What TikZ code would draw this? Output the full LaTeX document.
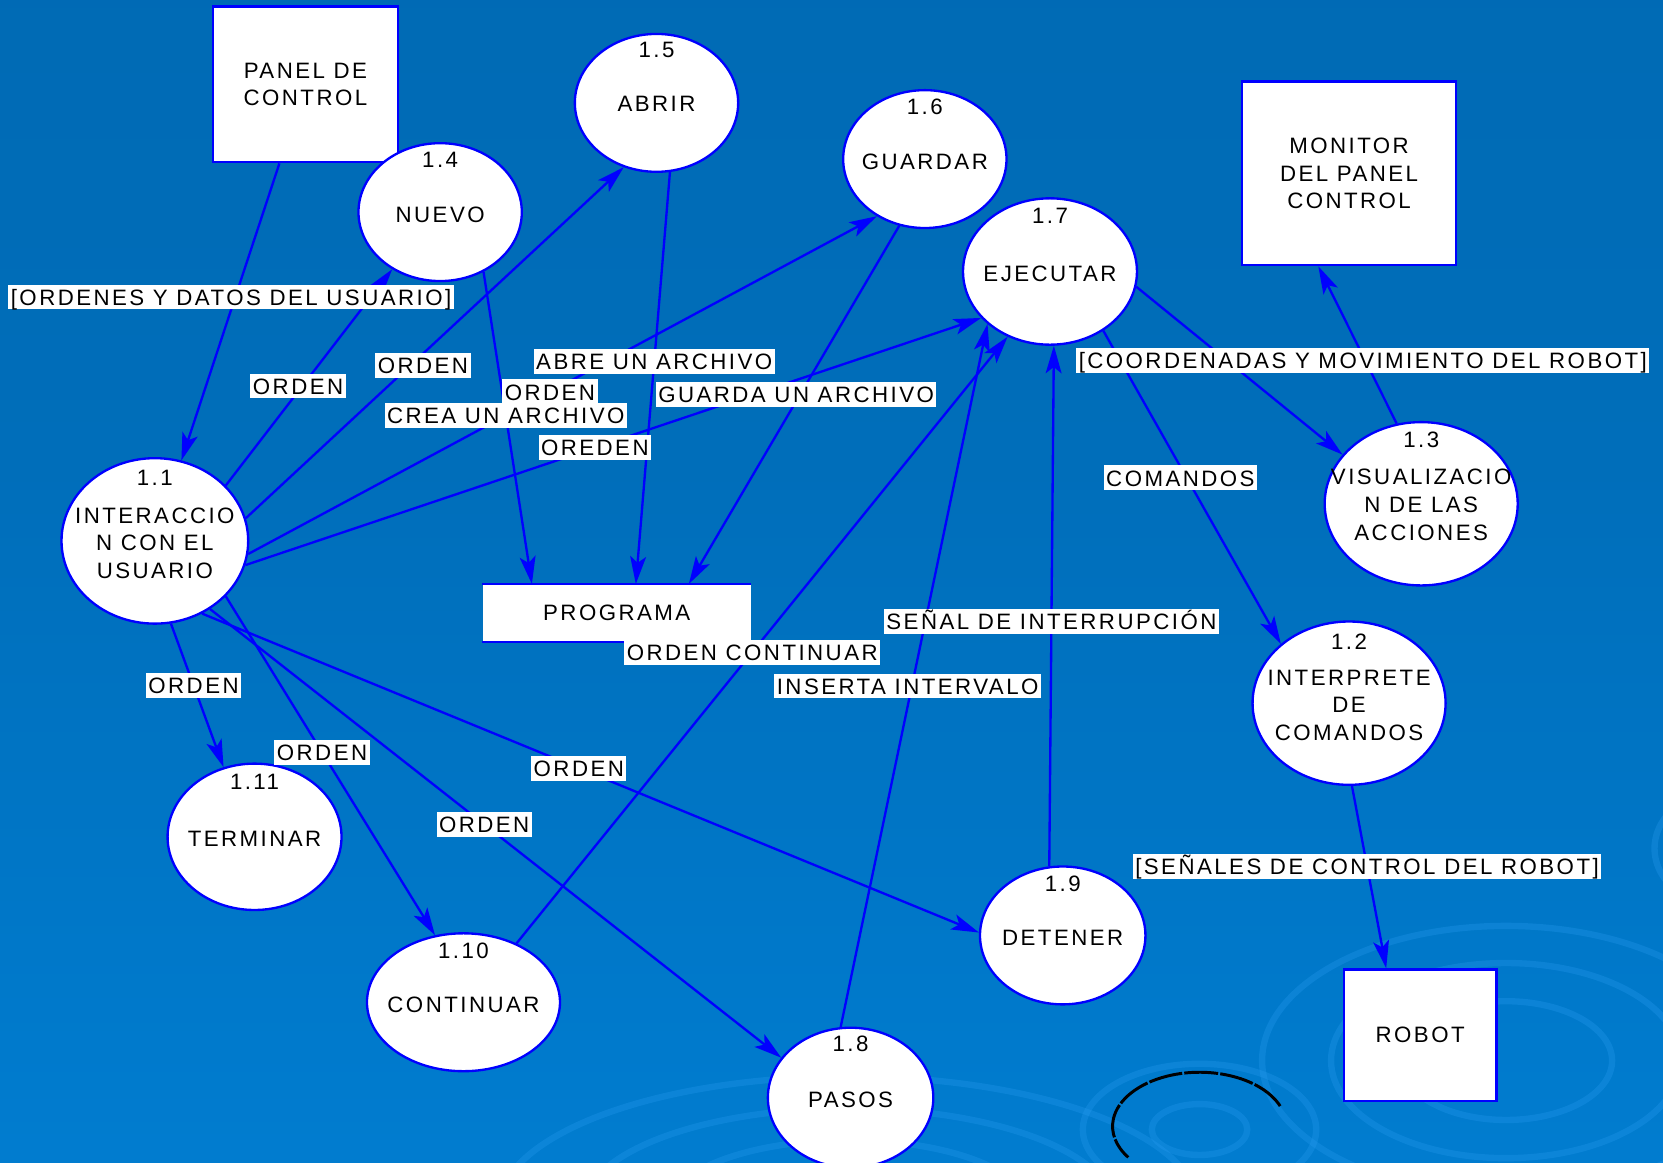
\documentclass[tikz,border=0pt]{standalone}
\usepackage{fontspec}
\setmainfont{Liberation Sans}[LetterSpace=11]
\usetikzlibrary{arrows.meta,calc,shapes.geometric}
\definecolor{flow}{RGB}{0,0,255}
\definecolor{bgtop}{RGB}{0,102,174}
\definecolor{bgmid}{RGB}{0,110,186}
\definecolor{bglow}{RGB}{0,122,204}
\definecolor{bgbot}{RGB}{8,136,224}
\definecolor{ripple}{RGB}{40,156,240}
\pgfdeclareverticalshading{bgshade}{100bp}{color(0bp)=(bgbot); color(30bp)=(bglow); color(55bp)=(bgmid); color(100bp)=(bgtop)}
\begin{document}
\begin{tikzpicture}[x=0.5pt,y=-0.5pt,
  font=\fontsize{10.5}{13}\selectfont,
  proc/.style={ellipse, draw=flow, line width=1.1pt, fill=white, inner sep=0pt},
  ptext/.style={align=center, inner sep=0pt},
  num/.style={inner sep=0pt},
  ent/.style={rectangle, draw=flow, line width=1.1pt, fill=white, align=center, inner sep=0pt},
  flowline/.style={draw=flow, line width=1.1pt, -{Stealth[length=13pt,width=7.5pt,inset=3pt]}},
  lbl/.style={fill=white, inner xsep=1.2pt, inner ysep=0.5pt, text height=9.2pt, text depth=1.5pt},
  rip/.style={draw=ripple, line width=3pt, opacity=0.3}
]
\useasboundingbox (0,0) rectangle (1568,1096);
\shade[shading=bgshade] (0,0) rectangle (1568,1096);

% background ripples
\draw[rip] (1420,1000) ellipse [x radius=230, y radius=127];
\draw[rip] (1420,1000) ellipse [x radius=165, y radius=92];
\draw[rip] (1420,1000) ellipse [x radius=100, y radius=56];
\draw[rip] (1131,1065) ellipse [x radius=45, y radius=24];
\draw[rip] (1131,1065) ellipse [x radius=110, y radius=62];
\draw[rip] (800,1140) ellipse [x radius=330, y radius=125];
\draw[rip] (800,1140) ellipse [x radius=250, y radius=95];
\draw[rip] (800,1140) ellipse [x radius=170, y radius=65];
\draw[rip] (1640,800) ellipse [x radius=80, y radius=60];
\draw[black, line width=1.4pt, dash pattern=on 16pt off 1pt] (1131,1062) ++(-22:82 and 51) arc[start angle=-22, end angle=-215, x radius=82, y radius=51];

% external entities and store
\node[ent, minimum width=87pt, minimum height=73.5pt] (panel) at (288,79.5) {PANEL DE\\CONTROL};
\node[ent, minimum width=101pt, minimum height=86.5pt] (monitor) at (1272,163.5) {MONITOR\\DEL PANEL\\CONTROL};
\node[ent, minimum width=72pt, minimum height=62pt] (robot) at (1339,976) {ROBOT};
\node[fill=white, minimum width=126.5pt, minimum height=27pt, inner sep=0pt] (prog) at (581.5,578) {PROGRAMA};
\draw[flow, line width=1pt] (prog.north west) -- (prog.north east);
\draw[flow, line width=1pt] (prog.south west) -- (prog.south east);

% processes
\node[proc, minimum width=88pt, minimum height=78pt] (n11) at (146,510) {};
\node[proc, minimum width=91pt, minimum height=77pt] (n12) at (1272,663) {};
\node[proc, minimum width=91pt, minimum height=77pt] (n13) at (1340,475) {};
\node[proc, minimum width=77pt, minimum height=65pt] (n14) at (415,200) {};
\node[proc, minimum width=77pt, minimum height=65pt] (n15) at (619,97) {};
\node[proc, minimum width=77pt, minimum height=65pt] (n16) at (872,150) {};
\node[proc, minimum width=82pt, minimum height=69pt] (n17) at (990,256) {};
\node[proc, minimum width=78pt, minimum height=66pt] (n18) at (802,1035) {};
\node[proc, minimum width=78pt, minimum height=65pt] (n19) at (1002,882) {};
\node[proc, minimum width=91pt, minimum height=65pt] (n110) at (437,945) {};
\node[proc, minimum width=82pt, minimum height=69pt] (n111) at (240,789) {};

\node[ptext] (n11t) at ([yshift=-1pt]n11.center) {INTERACCIO\\N CON EL\\USUARIO};
\node[ptext] (n12t) at ([yshift=-1pt]n12.center) {INTERPRETE\\DE\\COMANDOS};
\node[ptext] (n13t) at ([yshift=-0.5pt]n13.center) {VISUALIZACIO\\N DE LAS\\ACCIONES};
\node[ptext] (n14t) at ([yshift=-1.5pt]n14.center) {NUEVO};
\node[ptext] (n15t) at ([yshift=-0.5pt]n15.center) {ABRIR};
\node[ptext] (n16t) at ([yshift=-1.5pt]n16.center) {GUARDAR};
\node[ptext] (n17t) at ([yshift=-1pt]n17.center) {EJECUTAR};
\node[ptext] (n18t) at ([yshift=-1pt]n18.center) {PASOS};
\node[ptext] (n19t) at ([yshift=-1pt]n19.center) {DETENER};
\node[ptext] (n110t) at ([yshift=-1pt]n110.center) {CONTINUAR};
\node[ptext] (n111t) at ([yshift=-1pt]n111.center) {TERMINAR};

\node[num] (n11n) at ($(n11.north)+(0,20)$) {1.1};
\node[num] (n12n) at ($(n12.north)+(0,20)$) {1.2};
\node[num] (n13n) at ($(n13.north)+(0,18)$) {1.3};
\node[num] (n14n) at ($(n14.north)+(0,17)$) {1.4};
\node[num] (n15n) at ($(n15.north)+(0,16)$) {1.5};
\node[num] (n16n) at ($(n16.north)+(0,17)$) {1.6};
\node[num] (n17n) at ($(n17.north)+(0,18)$) {1.7};
\node[num] (n18n) at ($(n18.north)+(0,16)$) {1.8};
\node[num] (n19n) at ($(n19.north)+(0,17)$) {1.9};
\node[num] (n110n) at ($(n110.north)+(0,18)$) {1.10};
\node[num] (n111n) at ($(n111.north)+(0,18)$) {1.11};

% flows
\draw[flowline] (panel) -- (n11) coordinate[pos=0.45] (c1);
\draw[flowline] (n11.38) -- (n14.230) coordinate[pos=0.46] (c2);
\draw[flowline] (n11.14) -- (n15.243) coordinate[pos=0.435] (c3);
\draw[flowline] (n11.352) -- (n16.230) coordinate[pos=0.48] (c4);
\draw[flowline] (n11.345) -- (n17.214) coordinate[pos=0.475] (c5);
\draw[flowline] (n14.306) -- ([xshift=-40pt]prog.north) coordinate[pos=0.46] (c6);
\draw[flowline] (n15.281) -- ([xshift=9pt]prog.north) coordinate[pos=0.46] (c7);
\draw[flowline] (n16.249) -- ([xshift=34pt]prog.north) coordinate[pos=0.47] (c8);
\draw[flowline] (n17.350) -- (n13.148) coordinate[pos=0.44] (c9);
\draw[flowline] (n13.107) -- ([xshift=-14.5pt]monitor.south);
\draw[flowline] (n17.312) -- (n12.139) coordinate[pos=0.47] (c11);
\draw[flowline] (n12.272) -- ([xshift=-16pt]robot.north) coordinate[pos=0.44] (c12);
\draw[flowline] (n11.281) -- (n111.114) coordinate[pos=0.43] (c13);
\draw[flowline] (n11.322) -- (n110.113) coordinate[pos=0.46] (c14);
\draw[flowline] (n11.309) -- (n18.150) coordinate[pos=0.48] (c15);
\draw[flowline] (n11.303) -- (n19.178) coordinate[pos=0.485] (c16);
\draw[flowline] (n110.48) -- (n17.237) coordinate[pos=0.48] (c17);
\draw[flowline] (n18.98) -- (n17.220) coordinate[pos=0.485] (c18);
\draw[flowline] (n19.101) -- (n17.273) coordinate[pos=0.47] (c19);

% flow labels
\node[lbl] (l1) at ([xshift=-2pt]c1) {[ORDENES Y DATOS DEL USUARIO]};
\node[lbl] (l2) at ([xshift=-2pt]c2) {ORDEN};
\node[lbl] (l3) at ([xshift=6pt]c3) {ORDEN};
\node[lbl] (l4) at (c4) {ORDEN};
\node[lbl] (l5) at (c5) {OREDEN};
\node[lbl] (l6) at (c6) {CREA UN ARCHIVO};
\node[lbl] (l7) at (c7) {ABRE UN ARCHIVO};
\node[lbl] (l8) at ([xshift=-2pt]c8) {GUARDA UN ARCHIVO};
\node[lbl] (l9) at ([xshift=64pt]c9) {[COORDENADAS Y MOVIMIENTO DEL ROBOT]};
\node[lbl] (l11) at ([xshift=-3pt]c11) {COMANDOS};
\node[lbl] (l12) at (c12) {[SEÑALES DE CONTROL DEL ROBOT]};
\node[lbl] (l13) at (c13) {ORDEN};
\node[lbl] (l14) at (c14) {ORDEN};
\node[lbl] (l15) at (c15) {ORDEN};
\node[lbl] (l16) at (c16) {ORDEN};
\node[lbl] (l17) at (c17) {ORDEN CONTINUAR};
\node[lbl] (l18) at ([xshift=-2pt]c18) {INSERTA INTERVALO};
\node[lbl] (l19) at (c19) {SEÑAL DE INTERRUPCIÓN};
\end{tikzpicture}
\end{document}
